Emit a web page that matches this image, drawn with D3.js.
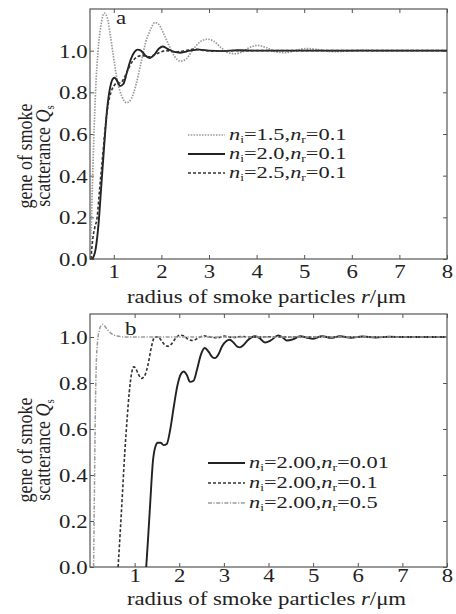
<!DOCTYPE html>
<html lang="en">
<head>
<meta charset="UTF-8">
<title>Smoke scatterance</title>
<script src="https://d3js.org/d3.v7.min.js"></script>
<style>
  body { margin: 0; background: #fff; }
  svg { display: block; }
  text { font-family: "Liberation Serif", "Times New Roman", serif; fill: #222; }
</style>
</head>
<body>
<div id="chart"></div>
<script>
// Data: radius r (um) and Q_s
const xTicks = [1, 2, 3, 4, 5, 6, 7, 8];
const yTicks = [0, 0.2, 0.4, 0.6, 0.8, 1.0];

// panel a
const aR15 = [0.5, 0.52, 0.55, 0.58, 0.62, 0.67, 0.73, 0.8, 0.86, 0.93, 1.0, 1.08, 1.17, 1.27, 1.37, 1.47, 1.57, 1.67, 1.77, 1.86, 1.95, 2.05, 2.15, 2.27, 2.4, 2.52, 2.65, 2.8, 2.97, 3.1, 3.25, 3.4, 3.55, 3.7, 3.85, 4.02, 4.2, 4.4, 4.6, 4.8, 5.05, 5.3, 5.6, 5.9, 6.2, 6.6, 7.0, 8.0];
const aQ15 = [0.0, 0.12, 0.35, 0.58, 0.82, 1.0, 1.12, 1.18, 1.16, 1.07, 0.96, 0.85, 0.78, 0.75, 0.77, 0.84, 0.94, 1.04, 1.1, 1.135, 1.125, 1.08, 1.03, 0.975, 0.95, 0.96, 1.0, 1.04, 1.055, 1.045, 1.015, 0.99, 0.985, 0.995, 1.015, 1.025, 1.015, 0.995, 0.99, 1.0, 1.01, 1.005, 0.995, 0.998, 1.002, 1.0, 1.0, 1.0];
const aR20 = [0.55, 0.62, 0.68, 0.74, 0.8, 0.86, 0.92, 0.98, 1.02, 1.07, 1.13, 1.2, 1.28, 1.36, 1.44, 1.5, 1.57, 1.65, 1.75, 1.85, 1.95, 2.03, 2.12, 2.25, 2.4, 2.6, 2.8, 3.0, 3.3, 3.6, 4.0, 5.0, 6.0, 8.0];
const aQ20 = [0.0, 0.05, 0.17, 0.36, 0.55, 0.72, 0.82, 0.865, 0.87, 0.855, 0.83, 0.84, 0.9, 0.96, 0.995, 1.005, 1.0, 0.98, 0.965, 0.98, 1.01, 1.02, 1.01, 0.995, 0.99, 1.0, 1.005, 1.0, 0.998, 1.002, 1.0, 1.0, 1.0, 1.0];
const aR25 = [0.52, 0.56, 0.6, 0.65, 0.7, 0.76, 0.82, 0.88, 0.94, 1.0, 1.07, 1.14, 1.22, 1.3, 1.38, 1.46, 1.55, 1.65, 1.75, 1.85, 1.95, 2.1, 2.3, 2.5, 2.7, 2.9, 3.2, 3.5, 4.0, 5.0, 8.0];
const aQ25 = [0.0, 0.1, 0.15, 0.2, 0.33, 0.48, 0.63, 0.74, 0.8, 0.83, 0.845, 0.845, 0.87, 0.91, 0.945, 0.965, 0.975, 0.975, 0.97, 0.98, 0.99, 1.0, 0.995, 1.0, 1.008, 1.0, 0.997, 1.0, 1.0, 1.0, 1.0];

// panel b
const bR001 = [1.26, 1.3, 1.35, 1.41, 1.46, 1.52, 1.58, 1.65, 1.72, 1.8, 1.88, 1.96, 2.04, 2.1, 2.17, 2.24, 2.32, 2.4, 2.48, 2.57, 2.66, 2.73, 2.8, 2.88, 2.96, 3.05, 3.13, 3.22, 3.3, 3.36, 3.44, 3.53, 3.62, 3.7, 3.8, 3.92, 4.05, 4.22, 4.32, 4.41, 4.55, 4.71, 4.85, 5.0, 5.2, 5.4, 5.6, 5.85, 6.1, 6.4, 6.7, 7.0, 7.5, 8.0];
const bQ001 = [0.0, 0.12, 0.28, 0.46, 0.52, 0.54, 0.54, 0.53, 0.535, 0.6, 0.7, 0.79, 0.84, 0.85, 0.835, 0.805, 0.81, 0.86, 0.92, 0.952, 0.935, 0.915, 0.908, 0.925, 0.96, 0.982, 0.988, 0.975, 0.958, 0.955, 0.965, 0.985, 0.998, 1.003, 0.995, 0.976, 0.985, 1.007, 0.998, 0.985, 0.99, 1.003, 0.998, 0.992, 1.004, 0.996, 1.003, 0.997, 1.002, 0.998, 1.001, 1.0, 1.0, 1.0];
const bR01 = [0.63, 0.68, 0.73, 0.78, 0.83, 0.88, 0.93, 0.98, 1.02, 1.08, 1.15, 1.22, 1.3, 1.38, 1.45, 1.52, 1.6, 1.68, 1.75, 1.83, 1.92, 2.01, 2.1, 2.2, 2.31, 2.42, 2.55, 2.7, 2.85, 3.0, 3.2, 3.4, 3.7, 4.0, 4.5, 5.0, 6.0, 8.0];
const bQ01 = [0.0, 0.16, 0.33, 0.5, 0.64, 0.76, 0.84, 0.87, 0.865, 0.84, 0.82, 0.83, 0.88, 0.96, 1.0, 1.0, 0.985, 0.965, 0.96, 0.97, 0.995, 1.008, 1.005, 0.99, 0.985, 0.995, 1.005, 1.0, 0.996, 1.004, 0.998, 1.002, 0.999, 1.001, 1.0, 1.0, 1.0, 1.0];
const bR05 = [0.08, 0.1, 0.12, 0.14, 0.17, 0.21, 0.25, 0.29, 0.34, 0.4, 0.48, 0.56, 0.65, 0.75, 1.0, 8.0];
const bQ05 = [0.0, 0.35, 0.68, 0.88, 0.98, 1.03, 1.05, 1.055, 1.045, 1.03, 1.015, 1.007, 1.003, 1.0, 1.0, 1.0];

const SX = 1.2;    // the scan is stretched sideways, so the text is too
const LSX = 1.4;   // legend text is stretched a little more
const W = 456, H = 614;
const FONT = "'Liberation Serif', 'Times New Roman', serif";

const styles = {
  dotted:  { stroke: "#999", width: 1.7, dash: "1.5,1.3" },
  solid:   { stroke: "#222", width: 1.9, dash: null },
  dashed:  { stroke: "#333", width: 1.6, dash: "3,2" },
  dashdot: { stroke: "#9a9a9a", width: 1.5, dash: "4,1.5,1.2,1.5" }
};

const svg = d3.select("#chart").append("svg")
  .attr("width", W).attr("height", H);

function legendText(t, ni, nr) {
  t.append("tspan").style("font-style", "italic").text("n");
  t.append("tspan").attr("dy", 3).style("font-size", "0.6em").text("i");
  t.append("tspan").attr("dy", -3).text("=" + ni + ",");
  t.append("tspan").style("font-style", "italic").text("n");
  t.append("tspan").attr("dy", 3).style("font-size", "0.6em").text("r");
  t.append("tspan").attr("dy", -3).text("=" + nr);
}

function panel(p) {
  const x = d3.scaleLinear().domain(p.xDomain).range([p.left, p.right]);
  const y = d3.scaleLinear().domain(p.yDomain).range([p.bottom, p.top]);
  const g = svg.append("g");

  const clipId = "clip-" + p.tag;
  g.append("clipPath").attr("id", clipId).append("rect")
    .attr("x", p.left).attr("y", p.top - 2)
    .attr("width", p.right - p.left).attr("height", p.bottom - p.top + 2);

  // axes, ticks pointing inward
  g.append("g").attr("transform", `translate(0,${p.bottom})`)
    .call(d3.axisBottom(x).tickValues(xTicks).tickSizeInner(-4).tickSizeOuter(0)
      .tickPadding(p.xPad).tickFormat(d3.format("d")));
  g.append("g").attr("transform", `translate(0,${p.top})`)
    .call(d3.axisTop(x).tickValues(xTicks).tickSizeInner(-4).tickSizeOuter(0).tickFormat(""));
  const left = g.append("g").attr("transform", `translate(${p.left},0)`)
    .call(d3.axisLeft(y).tickValues(yTicks).tickSizeInner(-4).tickSizeOuter(0)
      .tickPadding(2).tickFormat(d3.format(".1f")));
  g.append("g").attr("transform", `translate(${p.right},0)`)
    .call(d3.axisRight(y).tickValues(yTicks).tickSizeInner(-4).tickSizeOuter(0).tickFormat(""));

  g.selectAll(".domain").remove();
  g.selectAll(".tick line").attr("stroke", "#555");
  g.selectAll(".tick text")
    .attr("font-family", null)
    .style("font-family", FONT)
    .style("font-size", "19px").attr("fill", "#222")
    .attr("transform", `scale(${SX},1)`);
  left.selectAll(".tick text").attr("dy", "0.34em");

  g.append("rect")
    .attr("x", p.left).attr("y", p.top)
    .attr("width", p.right - p.left).attr("height", p.bottom - p.top)
    .attr("fill", "none").attr("stroke", "#555").attr("stroke-width", 1.2);

  // curves
  const line = d3.line().x(d => x(d[0])).y(d => y(d[1])).curve(d3.curveMonotoneX);
  const lines = g.append("g").attr("clip-path", `url(#${clipId})`);
  p.series.forEach(s => {
    const st = styles[s.style];
    lines.append("path")
      .datum(d3.zip(s.r, s.q))
      .attr("d", line)
      .attr("fill", "none")
      .attr("stroke", st.stroke)
      .attr("stroke-width", st.width)
      .attr("stroke-dasharray", st.dash);
  });

  // legend
  p.series.forEach((s, i) => {
    const st = styles[s.style];
    const ly = p.legY + i * p.legStep;
    g.append("line")
      .attr("x1", p.legX).attr("x2", p.legX + 37)
      .attr("y1", ly).attr("y2", ly)
      .attr("stroke", st.stroke).attr("stroke-width", st.width)
      .attr("stroke-dasharray", st.dash);
    const t = g.append("text")
      .attr("transform", `translate(${p.legX + 41},${ly + 5}) scale(${LSX},1)`)
      .style("font-family", FONT)
      .style("font-size", "16px");
    legendText(t, s.ni, s.nr);
  });

  // panel letter
  g.append("text")
    .attr("transform", `translate(${p.letterX},${p.letterY}) scale(${SX},1)`)
    .style("font-family", FONT)
    .style("font-size", "19px").text(p.tag);

  // x title
  const xt = g.append("text")
    .attr("transform", `translate(${(p.left + p.right) / 2 - 2},${p.xTitleY}) scale(${SX},1)`)
    .attr("text-anchor", "middle")
    .style("font-family", FONT).style("font-size", "19px");
  xt.append("tspan").text("radius of smoke particles ");
  xt.append("tspan").style("font-style", "italic").text("r");
  xt.append("tspan").text("/\u03bcm");

  // y title, two lines
  g.append("text")
    .attr("transform", `translate(32,${p.yTitleY}) rotate(-90) scale(1,${SX})`)
    .attr("text-anchor", "middle")
    .style("font-family", FONT).style("font-size", "18px")
    .text("gene of smoke");
  const yt2 = g.append("text")
    .attr("transform", `translate(50,${p.yTitleY}) rotate(-90) scale(1,${SX})`)
    .attr("text-anchor", "middle")
    .style("font-family", FONT).style("font-size", "18px");
  yt2.append("tspan").text("scatterance ");
  yt2.append("tspan").style("font-style", "italic").text("Q");
  yt2.append("tspan").attr("dy", 3).style("font-size", "0.6em").text("s");
}

panel({
  tag: "a",
  xDomain: [0.5, 8], yDomain: [0, 1.2],
  left: 90, right: 447, top: 9, bottom: 259,
  xPad: 6, xTitleY: 303, yTitleY: 156,
  legX: 188, legY: 135, legStep: 19,
  letterX: 116, letterY: 24,
  series: [
    { r: aR15, q: aQ15, style: "dotted", ni: "1.5", nr: "0.1" },
    { r: aR20, q: aQ20, style: "solid",  ni: "2.0", nr: "0.1" },
    { r: aR25, q: aQ25, style: "dashed", ni: "2.5", nr: "0.1" }
  ]
});

panel({
  tag: "b",
  xDomain: [0, 8], yDomain: [0, 1.1],
  left: 90, right: 447, top: 314, bottom: 567,
  xPad: 2, xTitleY: 605, yTitleY: 450,
  legX: 208, legY: 463, legStep: 20,
  letterX: 125, letterY: 335,
  series: [
    { r: bR001, q: bQ001, style: "solid",   ni: "2.00", nr: "0.01" },
    { r: bR01,  q: bQ01,  style: "dashed",  ni: "2.00", nr: "0.1" },
    { r: bR05,  q: bQ05,  style: "dashdot", ni: "2.00", nr: "0.5" }
  ]
});
</script>
</body>
</html>
